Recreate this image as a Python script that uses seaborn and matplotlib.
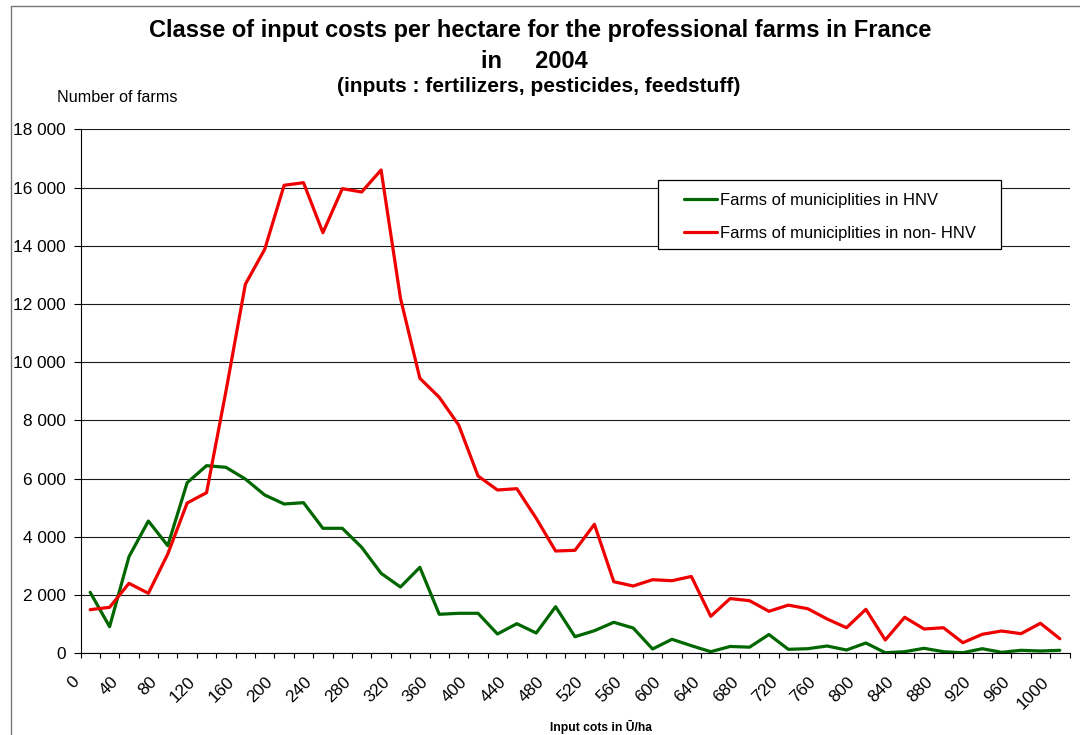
import numpy as np
import pandas as pd
import matplotlib
matplotlib.use("Agg")
import matplotlib.pyplot as plt
from matplotlib.patches import Rectangle
from matplotlib.lines import Line2D
from matplotlib.ticker import FuncFormatter, MultipleLocator
from matplotlib.transforms import ScaledTranslation
import seaborn as sns

# Input-cost classes (EUR/ha), 20-wide, identified by their lower bound
class_lower = list(range(0, 1001, 20))

# Number of farms per class
farms_hnv = [2095, 914, 3318, 4544, 3697, 5861, 6445, 6389, 5987, 5438,
             5129, 5174, 4294, 4294, 3641, 2748, 2277, 2954, 1340, 1374,
             1374, 663, 1017, 697, 1601, 570, 776, 1065, 869, 148,
             481, 261, 55, 235, 210, 645, 137, 158, 251, 113,
             354, 20, 55, 172, 55, 20, 158, 34, 103, 79, 103]
farms_non_hnv = [1498, 1580, 2404, 2061, 3411, 5163, 5517, 9000, 12676, 13878,
                 16077, 16166, 14449, 15960, 15847, 16603, 12195, 9447, 8794, 7843,
                 6091, 5610, 5655, 4637, 3514, 3538, 4431, 2460, 2312, 2528,
                 2494, 2640, 1270, 1880, 1807, 1443, 1655, 1532, 1180, 879,
                 1511, 457, 1237, 835, 879, 364, 653, 766, 674, 1031, 502]

series_names = ["Farms of municiplities in HNV", "Farms of municiplities in non- HNV"]
series_colors = ["#006600", "#ee0000"]

title_lines = ["Classe of input costs per hectare for the professional farms in France",
               "in     2004"]
subtitle = "(inputs : fertilizers, pesticides, feedstuff)"
y_title = "Number of farms"
x_title = "Input cots in \u016a/ha"

df = pd.concat([
    pd.DataFrame({"cost": np.array(class_lower) + 10, "farms": farms_hnv, "series": series_names[0]}),
    pd.DataFrame({"cost": np.array(class_lower) + 10, "farms": farms_non_hnv, "series": series_names[1]}),
], ignore_index=True)

sns.set_theme(style="white")
plt.rcParams["font.family"] = ["Liberation Sans", "DejaVu Sans"]

W, H = 1080, 735
fig = plt.figure(figsize=(W / 100, H / 100), dpi=100)
ax = fig.add_axes([80.5 / W, 1 - 653.3 / H, (1069.5 - 80.5) / W, (653.3 - 129.3) / H])

sns.lineplot(data=df, x="cost", y="farms", hue="series", hue_order=series_names,
             palette=dict(zip(series_names, series_colors)), linewidth=2.3,
             ax=ax, legend=True)

ax.set_xlim(0, 1020)
ax.set_ylim(0, 18000)
ax.xaxis.set_major_locator(MultipleLocator(40))
ax.xaxis.set_minor_locator(MultipleLocator(20))
ax.yaxis.set_major_locator(MultipleLocator(2000))
ax.yaxis.set_major_formatter(FuncFormatter(lambda v, p: f"{int(v):,}".replace(",", " ")))
ax.xaxis.set_major_formatter(FuncFormatter(lambda v, p: f"{int(v)}"))

ax.grid(False)
ax.yaxis.grid(True, color="#1a1a1a", linewidth=0.8)
ax.set_axisbelow(True)
for s in ["top", "right"]:
    ax.spines[s].set_visible(False)
for s in ["left", "bottom"]:
    ax.spines[s].set_color("black")
    ax.spines[s].set_linewidth(0.8)

ax.tick_params(axis="y", which="both", direction="out", length=5, width=0.8,
               color="black", pad=5.5, labelsize=12.4, labelcolor="black", left=True)
ax.tick_params(axis="x", which="both", direction="out", length=3.6, width=0.8,
               color="black", pad=11.5, labelsize=12.4, labelcolor="black", bottom=True)
shift = ScaledTranslation(1.5 / 100, 0, fig.dpi_scale_trans)
for lab in ax.get_xticklabels():
    lab.set_rotation(45)
    lab.set_ha("right")
    lab.set_va("top")
    lab.set_transform(lab.get_transform() + shift)

ax.set_xlabel("")
ax.set_ylabel("")

# Legend box and entries
handles, labels = ax.get_legend_handles_labels()
box = Rectangle((658.3 / W, 1 - 249.3 / H), (1000.7 - 658.3) / W, (249.3 - 180) / H,
                transform=fig.transFigure, facecolor="white", edgecolor="black",
                linewidth=0.9, zorder=4.5, clip_on=False)
ax.add_patch(box)
leg = ax.legend(handles, labels, loc="upper left",
                bbox_to_anchor=(684 / W, 1 - 193 / H), bbox_transform=fig.transFigure,
                frameon=False, borderpad=0, borderaxespad=0, handlelength=2.0,
                handletextpad=0.2, labelspacing=1.07, fontsize=11.85)
leg.set_zorder(6)
for t in leg.get_texts():
    t.set_color("black")

# Titles and axis titles
fig.text(540 / W, 1 - 31 / H, title_lines[0], ha="center", va="center",
         fontsize=17, fontweight="bold", color="black")
fig.text(534 / W, 1 - 61 / H, title_lines[1], ha="center", va="center",
         fontsize=17, fontweight="bold", color="black")
fig.text(538.5 / W, 1 - 87 / H, subtitle, ha="center", va="center",
         fontsize=15, fontweight="bold", color="black")
fig.text(57 / W, 1 - 98 / H, y_title, ha="left", va="center",
         fontsize=11.65, color="black")
fig.text(601 / W, 1 - 727 / H, x_title, ha="center", va="center",
         fontsize=8.7, fontweight="bold", color="black")

# Outer chart border
fig.add_artist(Line2D([10.5 / W, 10.5 / W], [0, 1 - 5.7 / H], transform=fig.transFigure,
                      color="#777777", linewidth=1.0))
fig.add_artist(Line2D([10.5 / W, 1], [1 - 5.7 / H, 1 - 5.7 / H], transform=fig.transFigure,
                      color="#777777", linewidth=1.0))

fig.savefig("out.png", dpi=100, facecolor="white")
